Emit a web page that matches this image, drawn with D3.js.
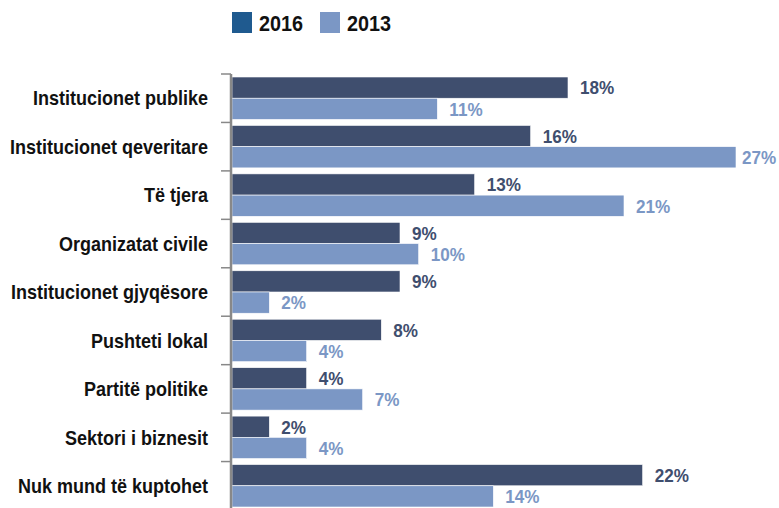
<!DOCTYPE html>
<html><head><meta charset="utf-8">
<script src="https://cdn.jsdelivr.net/npm/d3@7"></script>
<style>body{margin:0;background:#fff}svg{display:block}</style>
</head><body>
<svg id="c" width="779" height="508"></svg>
<script>
const categories = ["Institucionet publike","Institucionet qeveritare","Të tjera","Organizatat civile","Institucionet gjyqësore","Pushteti lokal","Partitë politike","Sektori i biznesit","Nuk mund të kuptohet"];
const values2016 = [18,16,13,9,9,8,4,2,22];
const values2013 = [11,27,21,10,2,4,7,4,14];
const seriesNames = ["2016","2013"];

const svg = d3.select("#c");
const barDark = "#3f4e6e", barLight = "#7b97c5", legendDark = "#1f5a8f";
const font = "'Liberation Sans', Arial, sans-serif";
const SX = 0.9;
const x = d3.scaleLinear().domain([0,27]).range([232,736]);
const y = d3.scaleBand().domain(categories).range([74,510]);
const sub = d3.scaleBand().domain(seriesNames).range([3, y.bandwidth()-3]);

function label(sel, tx, ty, txt, size, fill, anchor){
  const g = sel.append("g").attr("transform",`translate(${tx},${ty}) scale(${SX},1)`);
  return g.append("text").attr("dy","0.36em").attr("text-anchor",anchor||"start")
    .attr("font-family",font).attr("font-size",size).attr("font-weight","bold")
    .attr("fill",fill).text(txt);
}

// ticks
svg.append("g").selectAll("line").data(d3.range(categories.length+1)).join("line")
  .attr("x1",221).attr("x2",231)
  .attr("y1",i=>74+i*y.step()).attr("y2",i=>74+i*y.step())
  .attr("stroke","#888").attr("stroke-width",1.5);

const rows = svg.append("g").selectAll("g").data(categories).join("g")
  .attr("transform",d=>`translate(0,${y(d)})`);

rows.each(function(c,i){
  const g = d3.select(this);
  seriesNames.forEach((s,j)=>{
    const v = j===0?values2016[i]:values2013[i];
    const col = j===0?barDark:barLight;
    g.append("rect").attr("x",x(0)).attr("y",sub(s)).attr("width",x(v)-x(0)).attr("height",sub.bandwidth())
      .attr("fill",col).attr("stroke","#fff").attr("stroke-width",0.6);
    const tx = Math.min(x(v)+12, 742);
    label(g, tx, sub(s)+sub.bandwidth()/2, v+"%", 19, col);
  });
  label(g, 208, y.bandwidth()/2, c, 20, "#111", "end");
});

svg.append("path").attr("d",`M231,74V510`).attr("stroke","#888").attr("stroke-width",2.5).attr("fill","none");

// legend
const leg = [{n:"2016",c:legendDark,x:232},{n:"2013",c:barLight,x:320}];
const lg = svg.append("g").selectAll("g").data(leg).join("g").attr("transform",d=>`translate(${d.x},12)`);
lg.append("rect").attr("width",20).attr("height",21).attr("fill",d=>d.c);
lg.each(function(d){ label(d3.select(this), 27, 11, d.n, 22, "#111"); });
</script>
</body></html>
